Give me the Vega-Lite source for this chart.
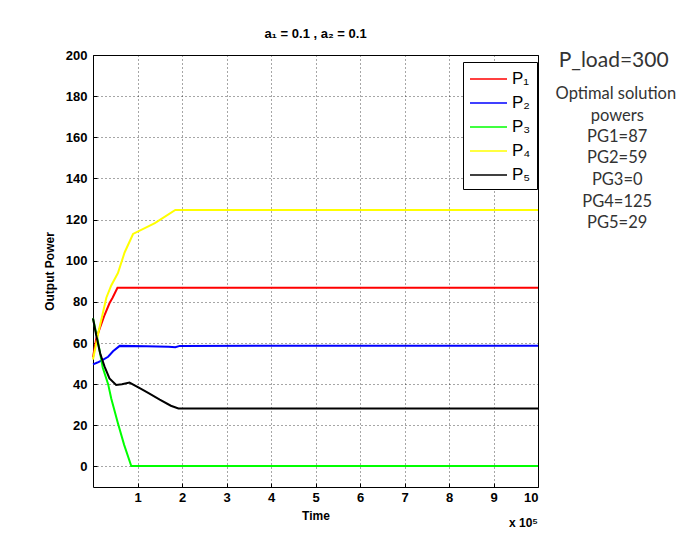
{
  "$schema": "https://vega.github.io/schema/vega-lite/v6.json",
  "autosize": "none",
  "width": 445,
  "height": 432,
  "padding": {"left": 93, "top": 55, "right": 156, "bottom": 63},
  "background": "white",
  "title": {"text": "a₁ = 0.1 , a₂ = 0.1", "font": "Liberation Sans", "fontSize": 13, "fontWeight": "bold", "offset": 8, "color": "#000"},
  "config": {
    "view": {"stroke": "#000", "strokeWidth": 1},
    "axis": {
      "labelFont": "Liberation Sans", "labelFontSize": 13, "labelFontWeight": "bold", "labelColor": "#000",
      "titleFont": "Liberation Sans", "titleFontSize": 12, "titleFontWeight": "bold", "titleColor": "#000",
      "domain": false, "tickColor": "#000", "tickSize": -4,
      "gridColor": "#000", "gridDash": [1, 3], "gridOpacity": 0.7, "gridWidth": 1
    }
  },
  "layer": [
    {
      "data": {"values": [
        {"t": 0, "v": 53, "s": "P₁"}, {"t": 0.07, "v": 62, "s": "P₁"}, {"t": 0.15, "v": 67, "s": "P₁"}, {"t": 0.26, "v": 73.6, "s": "P₁"}, {"t": 0.37, "v": 79.3, "s": "P₁"}, {"t": 0.44, "v": 82, "s": "P₁"}, {"t": 0.55, "v": 86.8, "s": "P₁"}, {"t": 1, "v": 86.8, "s": "P₁"}, {"t": 2, "v": 86.9, "s": "P₁"}, {"t": 10, "v": 86.8, "s": "P₁"},
        {"t": 0, "v": 49.6, "s": "P₂"}, {"t": 0.1, "v": 50.5, "s": "P₂"}, {"t": 0.22, "v": 51.8, "s": "P₂"}, {"t": 0.34, "v": 53.3, "s": "P₂"}, {"t": 0.45, "v": 56, "s": "P₂"}, {"t": 0.6, "v": 58.6, "s": "P₂"}, {"t": 1.2, "v": 58.4, "s": "P₂"}, {"t": 1.7, "v": 58.2, "s": "P₂"}, {"t": 1.85, "v": 57.9, "s": "P₂"}, {"t": 1.95, "v": 58.6, "s": "P₂"}, {"t": 10, "v": 58.7, "s": "P₂"},
        {"t": 0, "v": 72, "s": "P₃"}, {"t": 0.1, "v": 62, "s": "P₃"}, {"t": 0.22, "v": 48, "s": "P₃"}, {"t": 0.34, "v": 40, "s": "P₃"}, {"t": 0.41, "v": 33, "s": "P₃"}, {"t": 0.56, "v": 21, "s": "P₃"}, {"t": 0.7, "v": 10.5, "s": "P₃"}, {"t": 0.86, "v": 0.2, "s": "P₃"}, {"t": 10, "v": 0.2, "s": "P₃"},
        {"t": 0, "v": 52, "s": "P₄"}, {"t": 0.13, "v": 66, "s": "P₄"}, {"t": 0.3, "v": 82, "s": "P₄"}, {"t": 0.41, "v": 88, "s": "P₄"}, {"t": 0.56, "v": 94, "s": "P₄"}, {"t": 0.71, "v": 104, "s": "P₄"}, {"t": 0.9, "v": 113, "s": "P₄"}, {"t": 1.39, "v": 118.3, "s": "P₄"}, {"t": 1.85, "v": 124.7, "s": "P₄"}, {"t": 10, "v": 124.7, "s": "P₄"},
        {"t": 0, "v": 72, "s": "P₅"}, {"t": 0.07, "v": 64, "s": "P₅"}, {"t": 0.16, "v": 55, "s": "P₅"}, {"t": 0.26, "v": 48.5, "s": "P₅"}, {"t": 0.37, "v": 42.8, "s": "P₅"}, {"t": 0.52, "v": 39.6, "s": "P₅"}, {"t": 0.65, "v": 40, "s": "P₅"}, {"t": 0.82, "v": 40.8, "s": "P₅"}, {"t": 1.06, "v": 38, "s": "P₅"}, {"t": 1.24, "v": 35.8, "s": "P₅"}, {"t": 1.5, "v": 32.5, "s": "P₅"}, {"t": 1.75, "v": 29.5, "s": "P₅"}, {"t": 1.92, "v": 28.2, "s": "P₅"}, {"t": 10, "v": 28.2, "s": "P₅"}
      ]},
      "mark": {"type": "line", "strokeWidth": 2},
      "encoding": {
        "x": {"field": "t", "type": "quantitative", "scale": {"domain": [0, 10], "nice": false, "zero": false},
              "axis": {"values": [1, 2, 3, 4, 5, 6, 7, 8, 9, 10], "title": "Time", "labelPadding": 8.5, "titlePadding": 6}},
        "y": {"field": "v", "type": "quantitative", "scale": {"domain": [-10, 200], "nice": false, "zero": false},
              "axis": {"values": [0, 20, 40, 60, 80, 100, 120, 140, 160, 180, 200], "title": "Output Power", "labelPadding": 10, "titlePadding": 9}},
        "color": {"field": "s", "type": "nominal",
                  "scale": {"domain": ["P₁", "P₂", "P₃", "P₄", "P₅"], "range": ["#ff0000", "#0000ff", "#00ff00", "#ffff00", "#000000"]},
                  "legend": {"title": null, "orient": "none", "legendX": 370, "legendY": 7,
                             "symbolType": "M-1,0H2.7", "symbolSize": 400, "symbolStrokeWidth": 1.5,
                             "labelFont": "Liberation Sans", "labelFontSize": 17, "labelColor": "#000",
                             "fillColor": "white", "strokeColor": "#000", "padding": 6, "rowPadding": 5, "labelOffset": 21}}
      }
    },
    {
      "data": {"values": [
        {"t": 11.7, "v": 196.9, "txt": "P_load=300", "big": 1},
        {"t": 11.75, "v": 181.2, "txt": "Optimal solution", "big": 0},
        {"t": 11.78, "v": 170.5, "txt": "powers", "big": 0},
        {"t": 11.78, "v": 160.2, "txt": "PG1=87", "big": 0},
        {"t": 11.78, "v": 150.0, "txt": "PG2=59", "big": 0},
        {"t": 11.78, "v": 139.4, "txt": "PG3=0", "big": 0},
        {"t": 11.78, "v": 128.6, "txt": "PG4=125", "big": 0},
        {"t": 11.78, "v": 118.3, "txt": "PG5=29", "big": 0}
      ]},
      "mark": {"type": "text", "font": "Lato", "color": "#333", "baseline": "middle", "align": "center"},
      "encoding": {
        "x": {"field": "t", "type": "quantitative"},
        "y": {"field": "v", "type": "quantitative"},
        "text": {"field": "txt"},
        "size": {"condition": {"test": "datum.big === 1", "value": 21}, "value": 16.5}
      }
    },
    {
      "data": {"values": [{"t": 10, "v": -10, "txt": "x 10⁵"}]},
      "mark": {"type": "text", "font": "Liberation Sans", "fontWeight": "bold", "fontSize": 12, "color": "#000", "align": "right", "baseline": "middle", "dy": 36},
      "encoding": {
        "x": {"field": "t", "type": "quantitative"},
        "y": {"field": "v", "type": "quantitative"},
        "text": {"field": "txt"}
      }
    }
  ]
}
